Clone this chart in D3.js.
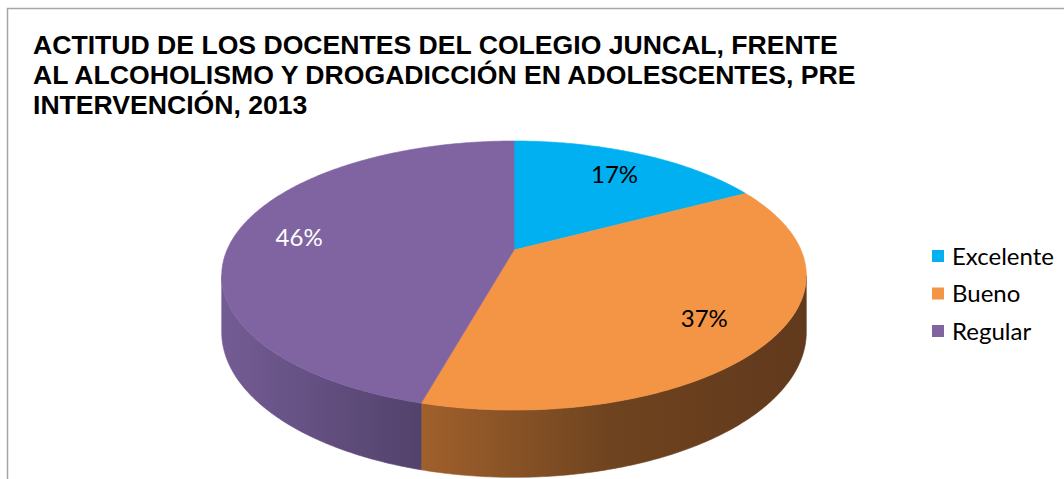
<!DOCTYPE html>
<html>
<head>
<meta charset="utf-8">
<script src="https://cdn.jsdelivr.net/npm/d3@7"></script>
<style>
    body { margin: 0; background: #fff; }
    svg { display: block; }
</style>
</head>
<body>
<svg id="chart" width="1064" height="479"></svg>
<script>

// Data

const categories = ["Excelente", "Bueno", "Regular"];
const values = [17.1, 37.1, 45.7];
const colors = ["#00b0f0", "#f39545", "#8064a2"];
const titleLines = [
    "ACTITUD DE LOS DOCENTES DEL COLEGIO JUNCAL, FRENTE",
    "AL ALCOHOLISMO Y DROGADICCIÓN EN ADOLESCENTES, PRE",
    "INTERVENCIÓN, 2013"
];

// Layout

const p = {
    cx: 514,
    cy: 250,
    rx: 287,       // horizontal radius at the centre depth
    ry: 129.7,     // vertical radius at the centre depth
    persp: 5.27,   // camera distance, in radii
    depth: 54.5,   // wall height
    labelR: 0.77
};

const svg = d3.select("#chart");

// chart frame, runs off the right and bottom edges like the source
svg.append("rect")
    .attr("x", 7.5).attr("y", 8.5)
    .attr("width", 1100).attr("height", 500)
    .attr("fill", "none")
    .attr("stroke", "#a6a6a6")
    .attr("stroke-width", 1.5);

// Title

svg.append("text")
    .attr("font-family", "'Liberation Sans', Arial, sans-serif")
    .attr("font-weight", "bold")
    .attr("font-size", 26.6)
    .attr("fill", "#000")
    .selectAll("tspan")
    .data(titleLines)
    .join("tspan")
    .attr("x", 33)
    .attr("y", (d, i) => 54 + i * 30)
    .text(d => d);

// Pie, drawn in a simple perspective

const total = d3.sum(values);
const arcs = d3.pie().sort(null).value(d => d)(values);

function project(theta, r, down) {
    const X = r * Math.sin(theta);
    const Z = -r * Math.cos(theta);
    const s = p.persp / (p.persp - Z);
    return [p.cx + p.rx * X * s, p.cy + p.ry * Z * s + down * s];
}

function rim(a0, a1, down) {
    const n = Math.max(2, Math.ceil((a1 - a0) / 0.01));
    return d3.range(n + 1).map(i => project(a0 + (a1 - a0) * i / n, 1, down));
}

const line = d3.line();
const defs = svg.append("defs");

// walls: only the front half (between the two silhouette points) shows
const vis0 = Math.acos(-1 / p.persp);
const vis1 = 2 * Math.PI - vis0;

const wallShades = [
    ["#0a7fb0", "#06628a"],
    ["#a0602c", "#6e431f", "#61391c"],
    ["#735c94", "#52426b"]
];

arcs.forEach((a, i) => {
    const a0 = Math.max(a.startAngle, vis0);
    const a1 = Math.min(a.endAngle, vis1);
    if (a1 <= a0) return;

    const top = rim(a0, a1, 0);
    const bottom = rim(a0, a1, p.depth).reverse();
    const xs = top.map(d => d[0]);

    const grad = defs.append("linearGradient")
        .attr("id", "wall" + i)
        .attr("gradientUnits", "userSpaceOnUse")
        .attr("x1", d3.min(xs)).attr("x2", d3.max(xs))
        .attr("y1", 0).attr("y2", 0);
    grad.selectAll("stop")
        .data(wallShades[i])
        .join("stop")
        .attr("offset", (d, k, all) => k / (all.length - 1))
        .attr("stop-color", d => d);

    svg.append("path")
        .attr("d", line(top.concat(bottom)) + "Z")
        .attr("fill", `url(#wall${i})`)
        .attr("stroke", `url(#wall${i})`)
        .attr("stroke-width", 0.6);
});

// top faces
svg.append("g")
    .selectAll("path")
    .data(arcs)
    .join("path")
    .attr("d", d => line([[p.cx, p.cy]].concat(rim(d.startAngle, d.endAngle, 0))) + "Z")
    .attr("fill", (d, i) => colors[i])
    .attr("stroke", (d, i) => colors[i])
    .attr("stroke-width", 0.6);

// percentage labels
svg.append("g")
    .attr("font-family", "Lato, 'Open Sans', sans-serif")
    .attr("font-size", 24)
    .attr("text-anchor", "middle")
    .selectAll("text")
    .data(arcs)
    .join("text")
    .attr("x", d => project((d.startAngle + d.endAngle) / 2, p.labelR, 0)[0])
    .attr("y", d => project((d.startAngle + d.endAngle) / 2, p.labelR, 0)[1] + 9)
    .attr("fill", (d, i) => i === 2 ? "#fff" : "#000")
    .text(d => Math.round(d.value / total * 100) + "%");

// Legend

const legend = svg.append("g")
    .attr("font-family", "Lato, 'Open Sans', sans-serif")
    .attr("font-size", 24);

categories.forEach((c, i) => {
    const item = legend.append("g")
        .attr("transform", `translate(932, ${256 + i * 37.5})`);
    item.append("rect")
        .attr("x", 0).attr("y", -6)
        .attr("width", 12).attr("height", 12)
        .attr("fill", colors[i]);
    item.append("text")
        .attr("x", 20).attr("y", 8.5)
        .text(c);
});

</script>
</body>
</html>
